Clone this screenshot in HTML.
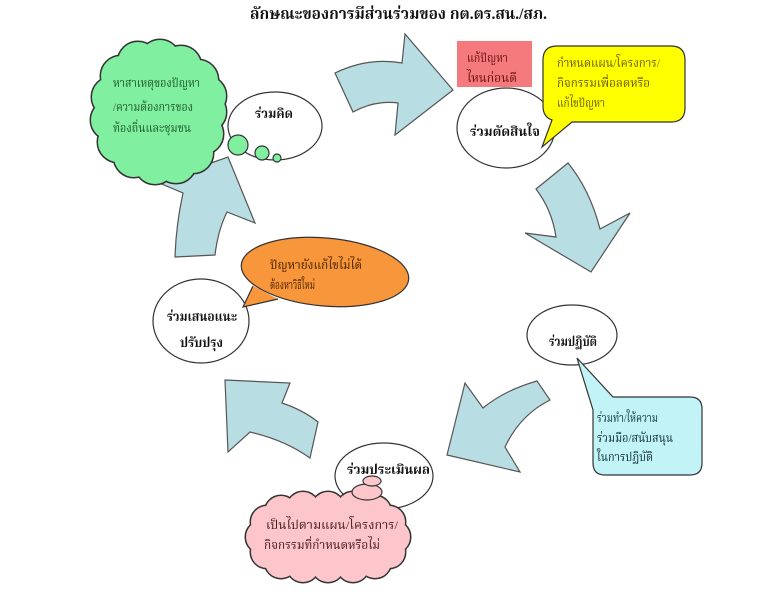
<!DOCTYPE html>
<html><head><meta charset="utf-8">
<style>
html,body{margin:0;padding:0;background:#fff;}
svg{display:block;}
text{font-family:"Liberation Serif","Noto Serif Thai","Noto Sans Thai","Norasi","Loma","Garuda","DejaVu Sans",serif;}
.b{font-weight:bold;fill:#111;font-size:13px;}
.s{font-size:12px;}
</style></head>
<body>
<svg width="781" height="599" viewBox="0 0 781 599" xmlns="http://www.w3.org/2000/svg">
<rect width="781" height="599" fill="#fff"/>

<!-- Title -->
<text x="250" y="19" font-size="16" font-weight="bold" fill="#111" textLength="297" lengthAdjust="spacingAndGlyphs">ลักษณะของการมีส่วนร่วมของ กต.ตร.สน./สภ.</text>

<!-- Arrows -->
<g fill="#b8dde3" stroke="#555" stroke-width="1.2" stroke-linejoin="miter">
  <path d="M335,73 Q368,57 402,63 L405,34 L453,90 L395,135 L398,103 Q375,100 353,112 Z"/>
  <path d="M536,189 L568,163 Q590,190 600,229 L630,213 L591,272 L525,233 L556,237 Q552,210 536,189 Z"/>
  <path d="M537,381 L550,400 Q520,415 505,447 L520,472 L447,455 L465,383 L483,408 Q505,390 537,381 Z"/>
  <path d="M225,380 L290,383 L282,403 Q303,410 318,422 L310,458 Q285,440 250,432 L228,452 Z"/>
  <path d="M175,257 L215,255 Q218,230 227,212 L255,223 L228,157 L157,182 L183,193 Q176,225 175,257 Z"/>
</g>

<!-- Green cloud -->
<g>
  <g fill="#80f0a0" stroke="#333" stroke-width="3">
    <circle cx="206" cy="112" r="20"/>
    <circle cx="203" cy="134" r="20"/>
    <circle cx="193" cy="153" r="20"/>
    <circle cx="176" cy="163" r="20"/>
    <circle cx="155" cy="164" r="20"/>
    <circle cx="134" cy="157" r="20"/>
    <circle cx="118" cy="142" r="20"/>
    <circle cx="111" cy="120" r="20"/>
    <circle cx="112" cy="97" r="20"/>
    <circle cx="121" cy="76" r="20"/>
    <circle cx="138" cy="62" r="20"/>
    <circle cx="160" cy="60" r="20"/>
    <circle cx="181" cy="66" r="20"/>
    <circle cx="198" cy="80" r="20"/>
    <circle cx="206" cy="96" r="20"/>
  </g>
  <g fill="#80f0a0">
    <ellipse cx="158" cy="112" rx="50" ry="54"/>
    <circle cx="206" cy="112" r="20"/>
    <circle cx="203" cy="134" r="20"/>
    <circle cx="193" cy="153" r="20"/>
    <circle cx="176" cy="163" r="20"/>
    <circle cx="155" cy="164" r="20"/>
    <circle cx="134" cy="157" r="20"/>
    <circle cx="118" cy="142" r="20"/>
    <circle cx="111" cy="120" r="20"/>
    <circle cx="112" cy="97" r="20"/>
    <circle cx="121" cy="76" r="20"/>
    <circle cx="138" cy="62" r="20"/>
    <circle cx="160" cy="60" r="20"/>
    <circle cx="181" cy="66" r="20"/>
    <circle cx="198" cy="80" r="20"/>
    <circle cx="206" cy="96" r="20"/>
  </g>
  <g class="s" fill="#1f5a30">
    <text x="113" y="87" textLength="87" lengthAdjust="spacingAndGlyphs">หาสาเหตุของปัญหา</text>
    <text x="113" y="111" textLength="80" lengthAdjust="spacingAndGlyphs">/ความต้องการของ</text>
    <text x="113" y="132" textLength="78" lengthAdjust="spacingAndGlyphs">ท้องถิ่นและชุมชน</text>
  </g>
</g>

<!-- ร่วมคิด -->
<ellipse cx="275" cy="126" rx="47" ry="34" fill="#fff" stroke="#333" stroke-width="1.2"/>
<g fill="#80f0a0" stroke="#333" stroke-width="1.2">
  <circle cx="238" cy="145" r="10"/>
  <circle cx="262" cy="153" r="7"/>
  <circle cx="277" cy="158" r="4"/>
</g>
<text class="b" x="255" y="118" textLength="38" lengthAdjust="spacingAndGlyphs">ร่วมคิด</text>

<!-- Pink rect -->
<rect x="457" y="41" width="75" height="46" fill="#f47a7e"/>
<g class="s" fill="#6a1010">
  <text x="467" y="62" textLength="41" lengthAdjust="spacingAndGlyphs">แก้ปัญหา</text>
  <text x="467" y="82" textLength="50" lengthAdjust="spacingAndGlyphs">ไหนก่อนดี</text>
</g>

<!-- ร่วมตัดสินใจ -->
<ellipse cx="506" cy="128" rx="49" ry="40" fill="#fff" stroke="#333" stroke-width="1.2"/>
<text class="b" x="470" y="136" textLength="70" lengthAdjust="spacingAndGlyphs">ร่วมตัดสินใจ</text>

<!-- Yellow callout -->
<path d="M557,46 H671 Q685,46 685,60 V108 Q685,122 671,122 H572 L542,147 L552,120 Q543,117 543,106 V60 Q543,46 557,46 Z" fill="#ffff00" stroke="#333" stroke-width="1.2"/>
<g class="s" fill="#6b5d00">
  <text x="557" y="67" textLength="103" lengthAdjust="spacingAndGlyphs">กำหนดแผน/โครงการ/</text>
  <text x="557" y="87" textLength="93" lengthAdjust="spacingAndGlyphs">กิจกรรมเพื่อลดหรือ</text>
  <text x="557" y="107" textLength="48" lengthAdjust="spacingAndGlyphs">แก้ไขปัญหา</text>
</g>

<!-- ร่วมเสนอแนะ ปรับปรุง -->
<ellipse cx="201" cy="321" rx="48" ry="42" fill="#fff" stroke="#333" stroke-width="1.2"/>
<text class="b" x="167" y="321" textLength="70" lengthAdjust="spacingAndGlyphs">ร่วมเสนอแนะ</text>
<text class="b" x="180" y="347" textLength="43" lengthAdjust="spacingAndGlyphs">ปรับปรุง</text>

<!-- Orange callout -->
<g transform="rotate(5 325 272)">
<ellipse cx="325" cy="272" rx="84" ry="34" fill="#f7963a" stroke="#333" stroke-width="1.2"/>
</g>
<path d="M253,286 L243,307 L278,299 Z" fill="#f7963a"/>
<path d="M253,286 L243,307 L278,299" fill="none" stroke="#333" stroke-width="1.2"/>
<g class="s" fill="#4a2200">
  <text x="270" y="269" textLength="92" lengthAdjust="spacingAndGlyphs">ปัญหายังแก้ไขไม่ได้</text>
  <text x="270" y="289" textLength="45" lengthAdjust="spacingAndGlyphs">ต้องหาวิธีใหม่</text>
</g>

<!-- ร่วมปฏิบัติ -->
<ellipse cx="572" cy="335" rx="45" ry="30" fill="#fff" stroke="#333" stroke-width="1.2"/>
<text class="b" x="549" y="346" textLength="48" lengthAdjust="spacingAndGlyphs">ร่วมปฏิบัติ</text>

<!-- Cyan callout -->
<path d="M593,463 V410 L577,358 L613,397 H690 Q702,397 702,409 V463 Q702,475 690,475 H605 Q593,475 593,463 Z" fill="#c2f4f7" stroke="#333" stroke-width="1.2"/>
<g class="s" fill="#10303a">
  <text x="597" y="422" textLength="61" lengthAdjust="spacingAndGlyphs">ร่วมทำ/ให้ความ</text>
  <text x="597" y="442" textLength="76" lengthAdjust="spacingAndGlyphs">ร่วมมือ/สนับสนุน</text>
  <text x="597" y="461" textLength="56" lengthAdjust="spacingAndGlyphs">ในการปฏิบัติ</text>
</g>

<!-- ร่วมประเมินผล -->
<ellipse cx="384" cy="476" rx="49" ry="33" fill="#fff" stroke="#333" stroke-width="1.2"/>
<text class="b" x="347" y="474" textLength="83" lengthAdjust="spacingAndGlyphs">ร่วมประเมินผล</text>

<!-- Pink cloud -->
<g>
  <g fill="#fcc6ca" stroke="#333" stroke-width="3">
    <circle cx="394" cy="537" r="16"/>
    <circle cx="389" cy="552" r="16"/>
    <circle cx="375" cy="562" r="16"/>
    <circle cx="353" cy="566" r="16"/>
    <circle cx="328" cy="566" r="16"/>
    <circle cx="303" cy="566" r="16"/>
    <circle cx="281" cy="562" r="16"/>
    <circle cx="267" cy="552" r="16"/>
    <circle cx="262" cy="537" r="16"/>
    <circle cx="267" cy="522" r="16"/>
    <circle cx="281" cy="512" r="16"/>
    <circle cx="303" cy="508" r="16"/>
    <circle cx="328" cy="508" r="16"/>
    <circle cx="353" cy="508" r="16"/>
    <circle cx="375" cy="512" r="16"/>
    <circle cx="389" cy="522" r="16"/>
  </g>
  <g fill="#fcc6ca">
    <ellipse cx="328" cy="537" rx="66" ry="29"/>
    <circle cx="394" cy="537" r="16"/>
    <circle cx="389" cy="552" r="16"/>
    <circle cx="375" cy="562" r="16"/>
    <circle cx="353" cy="566" r="16"/>
    <circle cx="328" cy="566" r="16"/>
    <circle cx="303" cy="566" r="16"/>
    <circle cx="281" cy="562" r="16"/>
    <circle cx="267" cy="552" r="16"/>
    <circle cx="262" cy="537" r="16"/>
    <circle cx="267" cy="522" r="16"/>
    <circle cx="281" cy="512" r="16"/>
    <circle cx="303" cy="508" r="16"/>
    <circle cx="328" cy="508" r="16"/>
    <circle cx="353" cy="508" r="16"/>
    <circle cx="375" cy="512" r="16"/>
    <circle cx="389" cy="522" r="16"/>
  </g>
  <g fill="#fcc6ca" stroke="#333" stroke-width="1.2">
    <ellipse cx="367" cy="492" rx="15" ry="8"/>
    <ellipse cx="372" cy="481" rx="9" ry="5"/>
  </g>
  <g class="s" fill="#4a1a1a">
    <text x="266" y="529" textLength="132" lengthAdjust="spacingAndGlyphs">เป็นไปตามแผน/โครงการ/</text>
    <text x="264" y="549" textLength="116" lengthAdjust="spacingAndGlyphs">กิจกรรมที่กำหนดหรือไม่</text>
  </g>
</g>
</svg>
</body></html>
